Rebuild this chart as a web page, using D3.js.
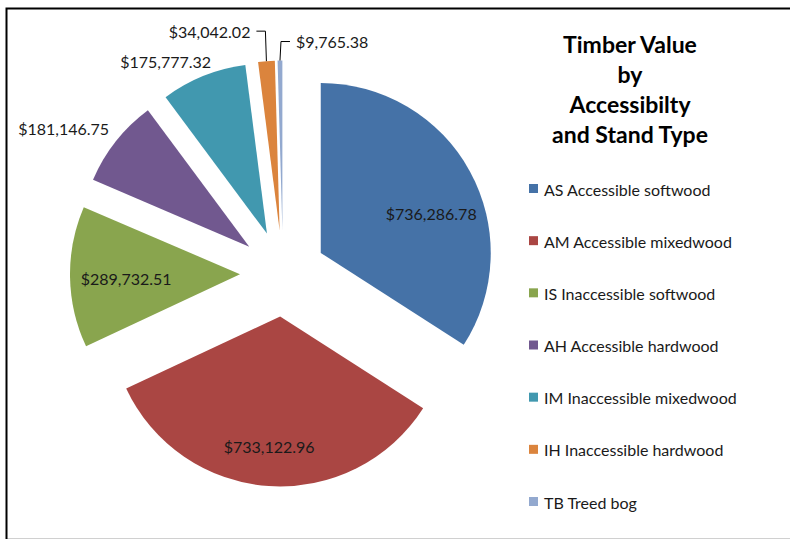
<!DOCTYPE html>
<html>
<head>
<meta charset="utf-8">
<script src="https://cdn.jsdelivr.net/npm/d3@7"></script>
<style>
  html, body { margin: 0; padding: 0; background: #fff; }
  text { font-family: Lato, "Open Sans", sans-serif; fill: #1a1a1a; }
</style>
</head>
<body>
<svg id="chart" width="790" height="540"></svg>
<script>
// stand types, in pie order (clockwise from 12 o'clock)
const codes = ['AS', 'AM', 'IS', 'AH', 'IM', 'IH', 'TB']
const names = ['Accessible softwood', 'Accessible mixedwood', 'Inaccessible softwood',
  'Accessible hardwood', 'Inaccessible mixedwood', 'Inaccessible hardwood', 'Treed bog']
const values = [736286.78, 733122.96, 289732.51, 181146.75, 175777.32, 34042.02, 9765.38]
const colors = ['#4572a7', '#aa4643', '#89a54e', '#71588f', '#4198af', '#db843d', '#93a9cf']
const titleLines = ['Timber Value', 'by', 'Accessibilty', 'and Stand Type']

const data = codes.map((c, i) => ({code: c, name: names[i], value: values[i], color: colors[i]}))

const svg = d3.select('#chart')
const W = 790, H = 540

// chart frame
svg.append('rect').attr('x', 0).attr('y', 0).attr('width', W).attr('height', H).attr('fill', '#fff')
svg.append('line').attr('x1', 6).attr('x2', W).attr('y1', 538.5).attr('y2', 538.5)
  .attr('stroke', '#d0d0d0').attr('stroke-width', 1)
svg.append('path').attr('d', `M6.5,${539}V8.5H${W}`)
  .attr('fill', 'none').attr('stroke', '#000').attr('stroke-width', 2)

// pie geometry
const cx = 283, cy = 273.5
const r = 170
const explode = 43
const fmt = d3.format('$,.2f')

const pie = d3.pie().sort(null).value(d => d.value)
const arc = d3.arc().innerRadius(0).outerRadius(r)
const arcs = pie(data)

const mid = (d) => (d.startAngle + d.endAngle) / 2
const dirOf = (a) => [Math.sin(a), -Math.cos(a)]

const g = svg.append('g').attr('transform', `translate(${cx},${cy})`)

const slices = g.selectAll('.slice')
  .data(arcs)
  .enter()
  .append('g')
  .attr('class', 'slice')
  .attr('transform', (d) => {
    let [ux, uy] = dirOf(mid(d))
    return `translate(${ux * explode},${uy * explode})`
  })

slices.append('path')
  .attr('d', arc)
  .attr('fill', (d) => d.data.color)

// label layout: inside for the big slices, outside for the rest,
// with leader lines for the slivers
const layout = {
  AS: {type: 'in', k: 0.69, da: 9},
  AM: {type: 'in', k: 0.77, da: 1},
  IS: {type: 'in', k: 0.67, da: -1},
  AH: {type: 'out', dx: -2, dy: -3},
  IM: {type: 'out', dx: 10, dy: -2},
  IH: {type: 'lead', side: -1, up: 30},
  TB: {type: 'lead', side: 1, up: 19}
}

slices.each(function (d) {
  let sel = d3.select(this)
  let L = layout[d.data.code]
  let a = mid(d)
  let label = fmt(d.data.value)

  if (L.type === 'in') {
    let aa = a + L.da * Math.PI / 180
    let [ux, uy] = dirOf(aa)
    sel.append('text')
      .attr('x', ux * r * L.k)
      .attr('y', uy * r * L.k)
      .attr('text-anchor', 'middle')
      .attr('dominant-baseline', 'central')
      .style('font-size', '16px')
      .text(label)
  } else if (L.type === 'out') {
    let [ux, uy] = dirOf(a)
    sel.append('text')
      .attr('x', ux * (r + 6) + L.dx)
      .attr('y', uy * (r + 6) + L.dy)
      .attr('text-anchor', ux < 0 ? 'end' : 'start')
      .style('font-size', '16px')
      .text(label)
  } else {
    let [ux, uy] = dirOf(a)
    let tx = ux * r, ty = uy * r
    let ey = ty - L.up
    let ex = tx + L.side * 1
    let hx = ex + L.side * 9
    sel.append('path')
      .attr('d', `M${tx},${ty}L${ex},${ey}H${hx}`)
      .attr('fill', 'none')
      .attr('stroke', '#000')
      .attr('stroke-width', 1)
    sel.append('text')
      .attr('x', hx + L.side * 6)
      .attr('y', ey)
      .attr('text-anchor', L.side < 0 ? 'end' : 'start')
      .attr('dominant-baseline', 'central')
      .style('font-size', '16px')
      .text(label)
  }
})

// title
const title = svg.append('text')
  .attr('x', 630)
  .attr('y', 53)
  .attr('text-anchor', 'middle')
  .style('font-size', '23px')
  .style('font-weight', 'bold')
  .style('fill', '#000')

title.selectAll('tspan')
  .data(titleLines)
  .enter()
  .append('tspan')
  .attr('x', 630)
  .attr('dy', (d, i) => i === 0 ? 0 : 30)
  .text(d => d)

// legend
const ly = d3.scalePoint().domain(codes).range([189, 502])

const legend = svg.append('g').attr('class', 'legend')
const items = legend.selectAll('.item')
  .data(data)
  .enter()
  .append('g')
  .attr('class', 'item')
  .attr('transform', (d) => `translate(529,${ly(d.code)})`)

items.append('rect')
  .attr('x', 0)
  .attr('y', -5)
  .attr('width', 9)
  .attr('height', 9)
  .attr('fill', (d) => d.color)

items.append('text')
  .attr('x', 15)
  .attr('y', 0)
  .attr('dominant-baseline', 'central')
  .style('font-size', '16px')
  .text((d) => `${d.code} ${d.name}`)
</script>
</body>
</html>
